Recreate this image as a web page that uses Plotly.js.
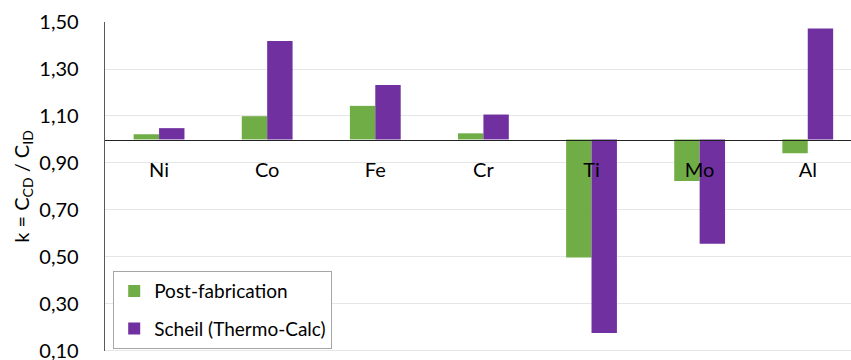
<!DOCTYPE html>
<html>
<head>
<meta charset="utf-8">
<script src="https://cdn.plot.ly/plotly-3.0.1.min.js"></script>
<style>html,body{margin:0;padding:0;background:#fff;}#chart{width:851px;height:360px;}</style>
</head>
<body>
<div id="chart"></div>
<script>
var elements = ["Ni", "Co", "Fe", "Cr", "Ti", "Mo", "Al"];
var postFabrication = [1.022, 1.099, 1.143, 1.026, 0.497, 0.823, 0.941];
var scheil = [1.048, 1.419, 1.232, 1.106, 0.175, 0.555, 1.473];
var seriesNames = ["Post-fabrication", "Scheil (Thermo-Calc)"];
var yTicks = [0.10, 0.30, 0.50, 0.70, 0.90, 1.10, 1.30, 1.50];
var baseValue = 1.0;

var FONT = "Lato, 'Open Sans', sans-serif";
function dev(arr){ return arr.map(function(v){ return v - baseValue; }); }

var traces = [
  {type: "bar", name: seriesNames[0], x: elements, y: dev(postFabrication), base: baseValue,
   marker: {color: "#70AD47"}, hoverinfo: "skip", legendgroup: "a"},
  {type: "bar", name: seriesNames[1], x: elements, y: dev(scheil), base: baseValue,
   marker: {color: "#7030A0"}, hoverinfo: "skip", legendgroup: "b"}
];

var yMin = 0.10, yMax = 1.50;
var layout = {
  width: 851, height: 360,
  margin: {l: 105, r: 0, t: 22, b: 9},
  paper_bgcolor: "#fff", plot_bgcolor: "#fff",
  separators: ",.",
  barmode: "group", bargap: 0.53, bargroupgap: 0,
  font: {family: FONT, size: 20, color: "#000"},
  xaxis: {
    type: "category", range: [-0.5, 6.4],
    anchor: "free", position: (baseValue - yMin) / (yMax - yMin),
    showline: true, linecolor: "#222", linewidth: 1,
    showgrid: false, ticks: "", tickfont: {family: FONT, size: 20, color: "#000"},
    ticklabelstandoff: 12, zeroline: false
  },
  yaxis: {
    range: [yMin - 0.002, yMax + 0.0005], tickvals: yTicks, tickformat: ".2f",
    showline: true, linecolor: "#595959", linewidth: 1.3,
    showgrid: true, gridcolor: "#E6E6E6", gridwidth: 1,
    zeroline: false, ticks: "", ticklabelstandoff: 21, ticklabeloverflow: "allow",
    tickfont: {family: FONT, size: 20, color: "#000"},
    title: {text: "k = C<sub>CD</sub> / C<sub>ID</sub>", font: {family: FONT, size: 20, color: "#000"}, standoff: 4}
  },
  shapes: [{
    type: "line", xref: "paper", yref: "y", x0: 0, x1: 1, y0: yMin, y1: yMin,
    line: {color: "#E6E6E6", width: 1}, layer: "below"
  }],
  legend: {
    x: 0.011, y: 0.243, xanchor: "left", yanchor: "top",
    bgcolor: "#fff", bordercolor: "#A6A6A6", borderwidth: 1,
    font: {family: FONT, size: 19, color: "#000"},
    itemwidth: 30, tracegroupgap: 10, entrywidth: 180
  },
  showlegend: true
};

Plotly.newPlot("chart", traces, layout, {staticPlot: true, displayModeBar: false});
</script>
</body>
</html>
